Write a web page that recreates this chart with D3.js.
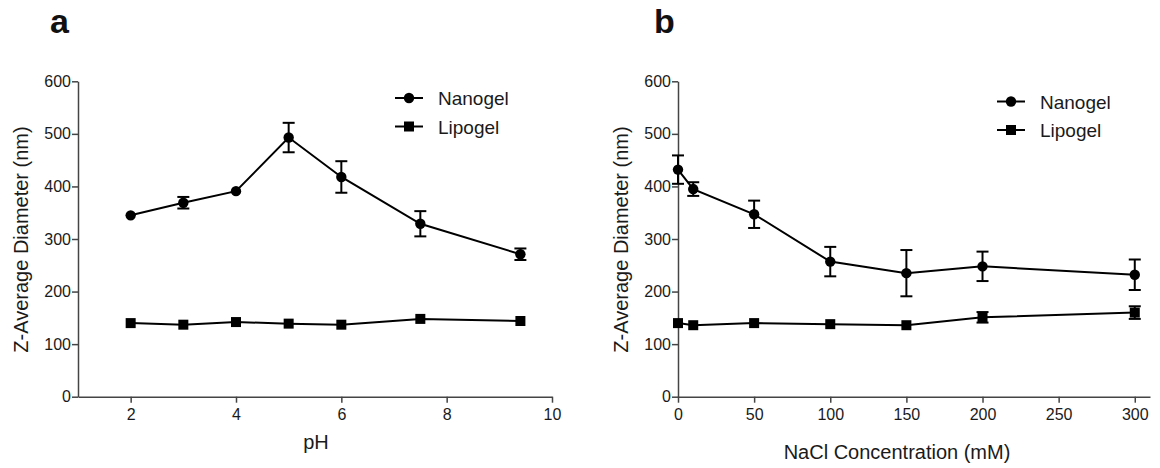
<!DOCTYPE html>
<html lang="en">
<head>
<meta charset="UTF-8">
<title>Z-Average Diameter vs pH and NaCl</title>
<script src="https://d3js.org/d3.v7.min.js"></script>
<style>
  body {
    margin: 0;
    background: #fff;
    font-family: "Liberation Sans", Arial, sans-serif;
  }
  .axis path, .axis line {
    stroke: #444;
    stroke-width: 1.5px;
  }
  .title { font-size: 20px; fill: #1a1a1a; }
  .panel { font-size: 34px; font-weight: bold; fill: #111; }
  .legend text { font-size: 19px; fill: #1a1a1a; }
</style>
</head>
<body>
<svg id="chart" width="1160" height="468"></svg>

<script>
// panel a - pH
var phValues = [2, 3, 4, 5, 6, 7.5, 9.4];
var phNanogel = [345, 369, 391, 493, 418, 329, 271];
var phNanogelErr = [0, 11, 0, 28, 30, 24, 11];
var phLipogel = [140, 137, 142, 139, 137, 148, 144];
var phLipogelErr = [0, 0, 0, 0, 0, 0, 0];
var phTicks = [2, 4, 6, 8, 10];

// panel b - NaCl
var naclValues = [0, 10, 50, 100, 150, 200, 300];
var naclNanogel = [432, 395, 347, 257, 235, 248, 232];
var naclNanogelErr = [27, 13, 26, 28, 44, 28, 29];
var naclLipogel = [140, 136, 140, 138, 136, 151, 160];
var naclLipogelErr = [0, 0, 0, 0, 0, 10, 12];
var naclTicks = [0, 50, 100, 150, 200, 250, 300];

var yTicks = [0, 100, 200, 300, 400, 500, 600];
var seriesNames = ["Nanogel", "Lipogel"];

var svg = d3.select("#chart");

function zip(xs, ys, es) {
  return xs.map(function (x, i) { return { x: x, y: ys[i], e: es[i] }; });
}

function styleTicks(a) {
  a.selectAll("text")
    .style("font-size", "16px")
    .style("font-family", "'Liberation Sans', Arial, sans-serif")
    .style("fill", "#1a1a1a");
}

function drawPanel(opt) {
  var g = svg.append("g");
  var x = d3.scaleLinear().domain(opt.xDomain).range(opt.xRange);
  var y = d3.scaleLinear().domain([0, 600]).range([396.7, 81.3]);

  g.append("g")
    .attr("class", "axis")
    .attr("transform", "translate(0,396.7)")
    .call(d3.axisBottom(x).tickValues(opt.xTicks).tickSize(6).tickSizeOuter(0).tickPadding(6))
    .call(styleTicks)
    .call(function (a) { a.selectAll("text").attr("dy", "0.71em"); });

  g.append("g")
    .attr("class", "axis")
    .attr("transform", "translate(" + opt.xRange[0] + ",0)")
    .call(d3.axisLeft(y).tickValues(yTicks).tickSize(6).tickSizeOuter(0).tickPadding(1))
    .call(styleTicks);

  var line = d3.line().x(function (d) { return x(d.x); }).y(function (d) { return y(d.y); });

  opt.series.forEach(function (s, si) {
    var pts = s;
    g.append("path")
      .datum(pts)
      .attr("d", line)
      .attr("fill", "none")
      .attr("stroke", "#000")
      .attr("stroke-width", 2);

    // error bars (skip the ones hidden under the marker)
    var eb = g.append("g").selectAll("g")
      .data(pts.filter(function (d) { return d.e > 0; }))
      .enter().append("g");
    eb.append("line")
      .attr("x1", function (d) { return x(d.x); })
      .attr("x2", function (d) { return x(d.x); })
      .attr("y1", function (d) { return y(d.y - d.e); })
      .attr("y2", function (d) { return y(d.y + d.e); })
      .attr("stroke", "#000").attr("stroke-width", 2);
    [1, -1].forEach(function (sg) {
      eb.append("line")
        .attr("x1", function (d) { return x(d.x) - 6; })
        .attr("x2", function (d) { return x(d.x) + 6; })
        .attr("y1", function (d) { return y(d.y + sg * d.e); })
        .attr("y2", function (d) { return y(d.y + sg * d.e); })
        .attr("stroke", "#000").attr("stroke-width", 2);
    });

    if (si === 0) {
      g.append("g").selectAll("circle").data(pts).enter().append("circle")
        .attr("cx", function (d) { return x(d.x); })
        .attr("cy", function (d) { return y(d.y); })
        .attr("r", 5.2)
        .attr("fill", "#000");
    } else {
      g.append("g").selectAll("rect").data(pts).enter().append("rect")
        .attr("x", function (d) { return x(d.x) - 5; })
        .attr("y", function (d) { return y(d.y) - 5; })
        .attr("width", 10).attr("height", 10)
        .attr("fill", "#000");
    }
  });

  // axis titles
  g.append("text")
    .attr("class", "title")
    .attr("text-anchor", "middle")
    .attr("x", opt.xTitleX).attr("y", opt.xTitleY)
    .text(opt.xTitle);
  g.append("text")
    .attr("class", "title")
    .attr("text-anchor", "middle")
    .attr("transform", "translate(" + opt.yTitleX + ",239.5) rotate(-90)")
    .text("Z-Average Diameter (nm)");

  // panel letter
  g.append("text").attr("class", "panel")
    .attr("x", opt.letterX).attr("y", 33)
    .text(opt.letter);

  // legend
  var lg = g.append("g").attr("class", "legend");
  seriesNames.forEach(function (name, i) {
    var ly = opt.legendY + i * 28.5;
    var lx = opt.legendX;
    lg.append("line")
      .attr("x1", lx).attr("x2", lx + 28)
      .attr("y1", ly).attr("y2", ly)
      .attr("stroke", "#000").attr("stroke-width", 2);
    if (i === 0) {
      lg.append("circle").attr("cx", lx + 14).attr("cy", ly).attr("r", 5.2).attr("fill", "#000");
    } else {
      lg.append("rect").attr("x", lx + 9).attr("y", ly - 5).attr("width", 10).attr("height", 10).attr("fill", "#000");
    }
    lg.append("text")
      .attr("x", lx + 43).attr("y", ly + 7)
      .text(name);
  });
}

drawPanel({
  xDomain: [1, 10], xRange: [78, 552], xTicks: phTicks,
  series: [zip(phValues, phNanogel, phNanogelErr), zip(phValues, phLipogel, phLipogelErr)],
  xTitle: "pH", xTitleX: 316, xTitleY: 449,
  yTitleX: 28, letter: "a", letterX: 50,
  legendX: 395, legendY: 98
});

drawPanel({
  xDomain: [0, 310], xRange: [678, 1150], xTicks: naclTicks,
  series: [zip(naclValues, naclNanogel, naclNanogelErr), zip(naclValues, naclLipogel, naclLipogelErr)],
  xTitle: "NaCl Concentration (mM)", xTitleX: 897, xTitleY: 459,
  yTitleX: 628, letter: "b", letterX: 654,
  legendX: 997, legendY: 101.5
});
</script>
</body>
</html>
